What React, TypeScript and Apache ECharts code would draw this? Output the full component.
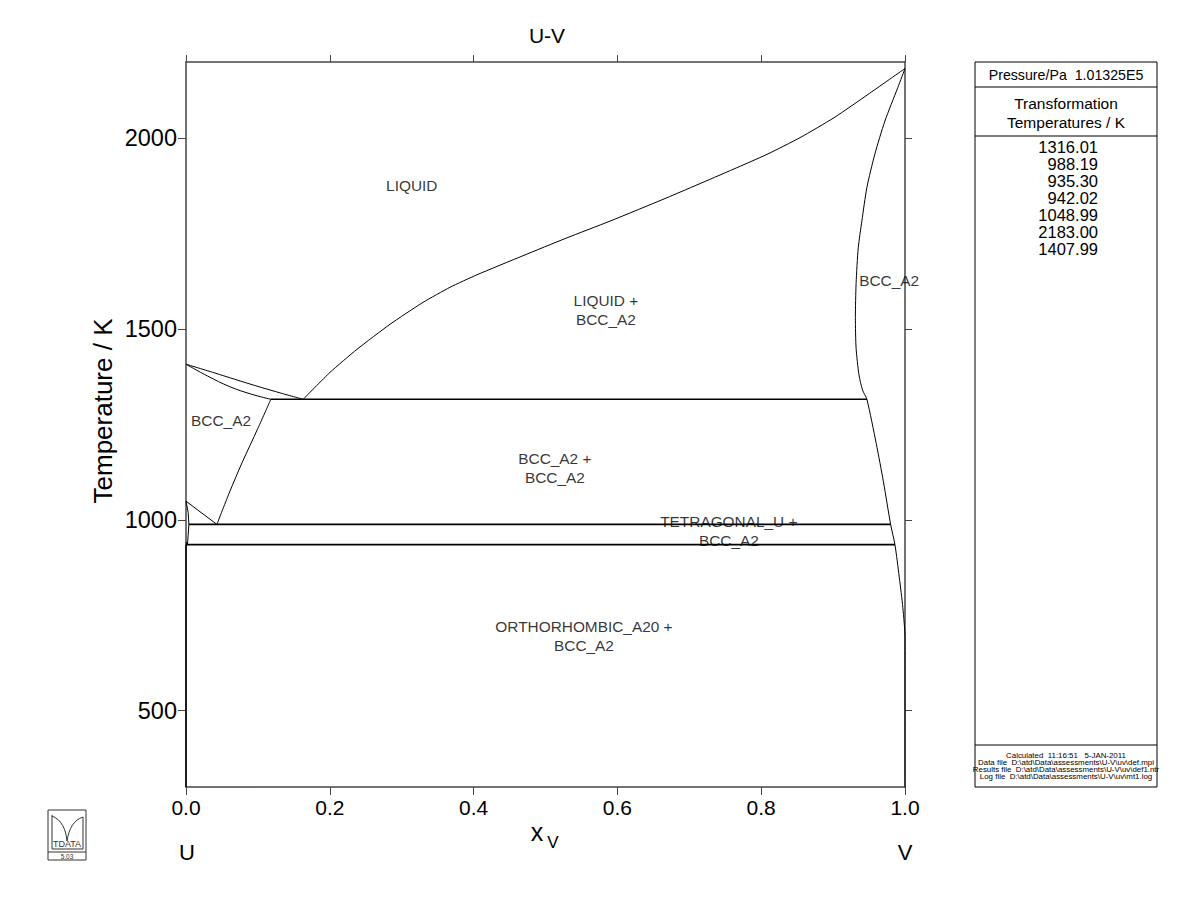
import React, { useEffect, useRef } from "react";
import * as echarts from "echarts";

// ---- data ----
const xTickValues = [0, 0.2, 0.4, 0.6, 0.8, 1.0];
const yTickValues = [500, 1000, 1500, 2000];
const transformationTemps = ["1316.01", "988.19", "935.30", "942.02", "1048.99", "2183.00", "1407.99"];

const liquidusU = [[0, 1407.99], [0.04, 1385], [0.084, 1359], [0.125, 1336], [0.163, 1316.01]];
const solidusU = [[0, 1407.99], [0.03, 1377], [0.061, 1349], [0.09, 1330], [0.118, 1316.01]];
const liquidusV = [
  [0.163, 1316.01], [0.2003, 1386.6], [0.2378, 1447], [0.2837, 1512.6], [0.3296, 1570],
  [0.3672, 1609.6], [0.4047, 1642.4], [0.4687, 1692.3], [0.5285, 1738.2], [0.5897, 1783],
  [0.669, 1844.4], [0.7608, 1918.6], [0.8081, 1958], [0.854, 2001.8], [0.9013, 2054],
  [0.9485, 2115], [1, 2183],
];
const solvusV = [
  [1, 2183], [0.99, 2133], [0.972, 2045], [0.958, 1958], [0.947, 1871], [0.94, 1783],
  [0.935, 1713], [0.932, 1620], [0.931, 1530], [0.932, 1450], [0.936, 1380], [0.941, 1340],
  [0.947, 1316.01], [0.96, 1200], [0.97, 1100], [0.98, 988.19], [0.986, 935.3], [0.992, 850],
  [0.997, 770], [1, 690], [1, 300],
];
const solvusU = [[0.118, 1316.01], [0.1, 1240], [0.078, 1150], [0.06, 1070], [0.043, 988.19]];
const tetBoundary = [[0, 1048.99], [0.043, 988.19]];
const tetSolvus = [[0, 1048.99], [0.003, 1020], [0.004, 988.19]];
const tetLower = [[0.004, 988.19], [0.003, 960], [0.002, 935.3]];
const orthoBoundary = [[0, 942.02], [0.001, 935.3]];
const pureU = [[0, 300], [0, 935.3]];
const eutectic = [[0.118, 1316.01], [0.947, 1316.01]];
const eutectoid988 = [[0.004, 988.19], [0.98, 988.19]];
const eutectoid935 = [[0, 935.3], [0.986, 935.3]];

const regionLabels = [
  { name: "LIQUID", value: [0.314, 1877] },
  { name: "LIQUID +\nBCC_A2", value: [0.584, 1551] },
  { name: "BCC_A2", value: [0.978, 1627] },
  { name: "BCC_A2", value: [0.0487, 1260] },
  { name: "BCC_A2 +\nBCC_A2", value: [0.513, 1136] },
  { name: "TETRAGONAL_U +\nBCC_A2", value: [0.755, 971] },
  { name: "ORTHORHOMBIC_A20 +\nBCC_A2", value: [0.5535, 696] },
];

const footerLines = [
  "Calculated  11:16:51   5-JAN-2011",
  "Data file  D:\\atd\\Data\\assessments\\U-V\\uv\\def.mpi",
  "Results file  D:\\atd\\Data\\assessments\\U-V\\uv\\def1.ntr",
  "Log file  D:\\atd\\Data\\assessments\\U-V\\uv\\mt1.log",
];

const FONT = "Liberation Sans, Arial, sans-serif";
const NARROW = "Liberation Sans Narrow, Liberation Sans, Arial, sans-serif";
const AX = "#444";

function lineSeries(data: number[][], width = 1, smooth: number | boolean = false) {
  return {
    type: "line",
    data,
    showSymbol: false,
    symbol: "none",
    smooth,
    lineStyle: { color: "#000", width },
    silent: true,
    z: 3,
  };
}

export default function App() {
  const ref = useRef<HTMLDivElement>(null);
  useEffect(() => {
    if (!ref.current) return;
    const chart = echarts.init(ref.current, null, { renderer: "svg" });

    const panelX = 975, panelW = 182, panelTop = 62, panelBottom = 787;
    const cx = panelX + panelW / 2;

    const graphic: any[] = [
      // title
      { type: "text", x: 547, y: 35, style: { text: "U-V", font: `21px ${FONT}`, fill: "#000", align: "center", verticalAlign: "middle" } },
      // y name
      { type: "text", x: 103, y: 411, rotation: Math.PI / 2, style: { text: "Temperature / K", font: `26px ${FONT}`, fill: "#000", align: "center", verticalAlign: "middle" } },
      // x name
      { type: "text", x: 537, y: 832, style: { text: "x", font: `25px ${NARROW}`, fill: "#000", align: "center", verticalAlign: "middle" } },
      { type: "text", x: 553, y: 842, style: { text: "V", font: `17px ${NARROW}`, fill: "#000", align: "center", verticalAlign: "middle" } },
      { type: "text", x: 187, y: 852, style: { text: "U", font: `22px ${NARROW}`, fill: "#000", align: "center", verticalAlign: "middle" } },
      { type: "text", x: 905, y: 852, style: { text: "V", font: `22px ${NARROW}`, fill: "#000", align: "center", verticalAlign: "middle" } },
      // right panel
      { type: "rect", shape: { x: panelX, y: panelTop, width: panelW, height: panelBottom - panelTop }, style: { fill: "none", stroke: "#000", lineWidth: 1 } },
      { type: "line", shape: { x1: panelX, y1: 87, x2: panelX + panelW, y2: 87 }, style: { stroke: "#000", lineWidth: 1 } },
      { type: "line", shape: { x1: panelX, y1: 136, x2: panelX + panelW, y2: 136 }, style: { stroke: "#000", lineWidth: 1 } },
      { type: "line", shape: { x1: panelX, y1: 745, x2: panelX + panelW, y2: 745 }, style: { stroke: "#000", lineWidth: 1 } },
      { type: "text", x: cx, y: 75, style: { text: "Pressure/Pa  1.01325E5", font: `14.2px ${FONT}`, fill: "#000", align: "center", verticalAlign: "middle" } },
      { type: "text", x: cx, y: 103, style: { text: "Transformation", font: `15.5px ${FONT}`, fill: "#000", align: "center", verticalAlign: "middle" } },
      { type: "text", x: cx, y: 122, style: { text: "Temperatures / K", font: `15.5px ${FONT}`, fill: "#000", align: "center", verticalAlign: "middle" } },
      ...transformationTemps.map((t, i) => ({
        type: "text", x: 1098, y: 147 + i * 17,
        style: { text: t, font: `16.5px ${FONT}`, fill: "#000", align: "right", verticalAlign: "middle" },
      })),
      ...footerLines.map((t, i) => ({
        type: "text", x: cx, y: 755 + i * 7,
        style: { text: t, font: `7.9px ${FONT}`, fill: "#000", align: "center", verticalAlign: "middle" },
      })),
      // logo
      { type: "rect", shape: { x: 48, y: 810, width: 38, height: 50 }, style: { fill: "none", stroke: "#333", lineWidth: 1 } },
      { type: "line", shape: { x1: 48, y1: 852, x2: 86, y2: 852 }, style: { stroke: "#333", lineWidth: 1 } },
      { type: "line", shape: { x1: 52, y1: 815, x2: 52, y2: 849 }, style: { stroke: "#333", lineWidth: 1 } },
      { type: "bezierCurve", shape: { x1: 52, y1: 816, cpx1: 62, cpy1: 820, cpx2: 66, cpy2: 830, x2: 67, y2: 841 }, style: { stroke: "#333", lineWidth: 1, fill: "none" } },
      { type: "bezierCurve", shape: { x1: 67, y1: 841, cpx1: 69, cpy1: 828, cpx2: 74, cpy2: 820, x2: 83, y2: 817 }, style: { stroke: "#333", lineWidth: 1, fill: "none" } },
      { type: "line", shape: { x1: 83, y1: 817, x2: 83, y2: 849 }, style: { stroke: "#333", lineWidth: 1 } },
      { type: "line", shape: { x1: 52, y1: 849, x2: 83, y2: 849 }, style: { stroke: "#333", lineWidth: 1 } },
      { type: "text", x: 67, y: 844, style: { text: "TDATA", font: `9px ${FONT}`, fill: "#333", align: "center", verticalAlign: "middle" } },
      { type: "text", x: 67, y: 856, style: { text: "5.03", font: `6.5px ${FONT}`, fill: "#333", align: "center", verticalAlign: "middle" } },
    ];

    const option: any = {
      animation: false,
      backgroundColor: "#fff",
      textStyle: { fontFamily: FONT },
      grid: { left: 186, right: 295, top: 62, bottom: 136, containLabel: false },
      xAxis: [
        {
          type: "value", position: "bottom", min: 0, max: 1, interval: 0.2,
          axisLine: { show: true, onZero: false, lineStyle: { color: AX, width: 1.5 } },
          axisTick: { show: true, inside: false, length: 8, lineStyle: { color: AX, width: 1 } },
          axisLabel: { show: true, margin: 10, fontSize: 21, fontFamily: NARROW, color: "#000", formatter: (v: number) => xTickValues.includes(Math.round(v * 10) / 10) ? v.toFixed(1) : "" },
          splitLine: { show: false },
        },
        {
          type: "value", position: "top", min: 0, max: 1, interval: 0.2,
          axisLine: { show: true, onZero: false, lineStyle: { color: AX, width: 1.5 } },
          axisTick: { show: true, inside: false, length: 7, lineStyle: { color: AX, width: 1 } },
          axisLabel: { show: false },
          splitLine: { show: false },
        },
      ],
      yAxis: [
        {
          type: "value", position: "left", min: 300, max: 2200,
          axisLine: { show: true, onZero: false, lineStyle: { color: AX, width: 1.5 } },
          axisTick: { show: true, inside: false, length: 8, customValues: yTickValues, lineStyle: { color: AX, width: 1 } },
          axisLabel: { show: true, margin: 9, fontSize: 23.5, fontFamily: FONT, color: "#000", customValues: yTickValues, formatter: (v: number) => String(Math.round(v)) },
          splitLine: { show: false },
        },
        {
          type: "value", position: "right", min: 300, max: 2200,
          axisLine: { show: true, onZero: false, lineStyle: { color: AX, width: 1.5 } },
          axisTick: { show: true, inside: false, length: 7, customValues: yTickValues, lineStyle: { color: AX, width: 1 } },
          axisLabel: { show: false },
          splitLine: { show: false },
        },
      ],
      series: [
        lineSeries(liquidusU, 1, 0.4),
        lineSeries(solidusU, 1, 0.4),
        lineSeries(liquidusV, 1, 0.2),
        lineSeries(solvusV, 1, 0.25),
        lineSeries(solvusU, 1, 0.3),
        lineSeries(tetBoundary, 1),
        lineSeries(tetSolvus, 1),
        lineSeries(tetLower, 1),
        lineSeries(orthoBoundary, 1),
        lineSeries(pureU, 1.5),
        lineSeries(eutectic, 1.6),
        lineSeries(eutectoid988, 1.6),
        lineSeries(eutectoid935, 1.6),
        {
          type: "scatter",
          data: regionLabels,
          symbolSize: 0,
          silent: true,
          z: 4,
          label: {
            show: true,
            position: "inside",
            formatter: (p: any) => p.name,
            color: "#000",
            fontSize: 15.4,
            fontFamily: FONT,
            lineHeight: 19,
            align: "center",
            verticalAlign: "middle",
          },
        },
      ],
      graphic,
    };
    chart.setOption(option);
    return () => chart.dispose();
  }, []);

  return <div ref={ref} style={{ position: "fixed", left: 0, top: 0, width: 1200, height: 923, background: "#fff" }} />;
}
